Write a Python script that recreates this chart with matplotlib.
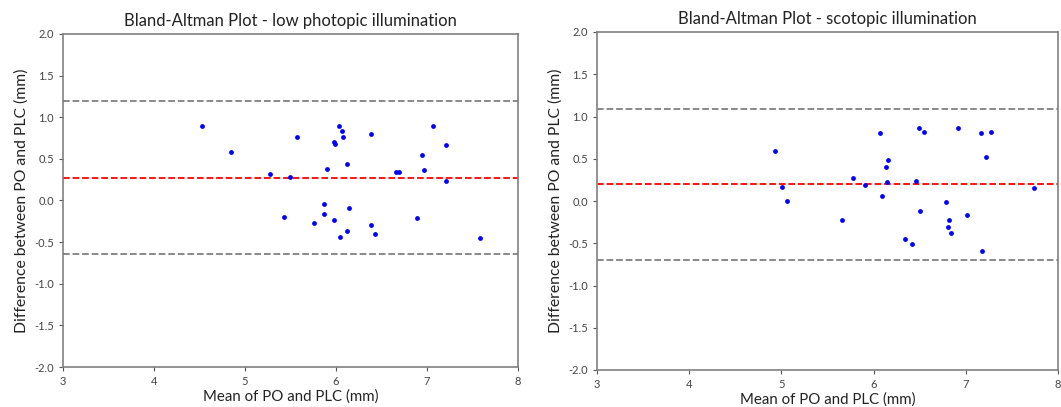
import matplotlib
matplotlib.use("Agg")
import matplotlib.pyplot as plt

# Low photopic illumination
low_mean = [4.527, 4.850, 5.275, 5.498, 5.575, 5.432, 5.758, 5.868, 5.868, 5.901,
            5.978, 5.989, 5.982, 6.037, 6.070, 6.081, 6.125, 6.147, 6.125, 6.048,
            6.381, 6.381, 6.425, 6.663, 6.696, 6.886, 6.941, 6.963, 7.066, 7.209,
            7.209, 7.582]
low_diff = [0.90, 0.584, 0.324, 0.288, 0.764, -0.204, -0.276, -0.044, -0.164, 0.384,
            0.708, 0.684, -0.24, 0.90, 0.84, 0.764, 0.444, -0.092, -0.364, -0.436,
            0.804, -0.292, -0.40, 0.348, 0.348, -0.216, 0.544, 0.364, 0.90, 0.668,
            0.24, -0.452]
low_bias = 0.272
low_loa = [1.192, -0.64]

# Scotopic illumination
sco_mean = [4.931, 5.011, 5.058, 5.653, 5.776, 5.906, 6.069, 6.090, 6.134, 6.159,
            6.148, 6.336, 6.415, 6.458, 6.495, 6.552, 6.505, 6.787, 6.819, 6.809,
            6.841, 6.910, 7.018, 7.170, 7.181, 7.224, 7.271, 7.740]
sco_diff = [0.596, 0.169, -0.004, -0.227, 0.278, 0.192, 0.804, 0.059, 0.40, 0.486,
            0.227, -0.447, -0.506, 0.239, 0.867, 0.816, -0.114, -0.016, -0.227, -0.31,
            -0.373, 0.867, -0.161, 0.804, -0.592, 0.525, 0.816, 0.157]
sco_bias = 0.196
sco_loa = [1.090, -0.698]

titles = ["Bland-Altman Plot - low photopic illumination",
          "Bland-Altman Plot - scotopic illumination"]
xlabel = "Mean of PO and PLC (mm)"
ylabel = "Difference between PO and PLC (mm)"
xticks = [3, 4, 5, 6, 7, 8]
yticks = [-2.0, -1.5, -1.0, -0.5, 0.0, 0.5, 1.0, 1.5, 2.0]

plt.rcParams['font.family'] = ['Lato', 'DejaVu Sans']

W, H = 1061, 407
fig = plt.figure(figsize=(W / 100, H / 100), dpi=100)

boxes = [(63, 34, 518, 367), (597, 32, 1058, 370)]
data = [(low_mean, low_diff, low_bias, low_loa),
        (sco_mean, sco_diff, sco_bias, sco_loa)]

for (x0, y0, x1, y1), (m, d, b, loa), t in zip(boxes, data, titles):
    ax = fig.add_axes([x0 / W, 1 - y1 / H, (x1 - x0) / W, (y1 - y0) / H])
    ax.scatter(m, d, s=12, color='#0000ff', zorder=3, linewidths=0)
    ax.axhline(b, color='red', linestyle='--', linewidth=1.3)
    for v in loa:
        ax.axhline(v, color='gray', linestyle='--', linewidth=1.3)
    ax.set_xlim(3, 8)
    ax.set_ylim(-2, 2)
    ax.set_xticks(xticks)
    ax.set_yticks(yticks)
    ax.set_xticklabels([str(v) for v in xticks])
    ax.set_yticklabels([f"{v:.1f}" for v in yticks])
    ax.tick_params(labelsize=8, length=3, color='#555555', labelcolor='#444444')
    for s in ax.spines.values():
        s.set_color('#808080')
        s.set_linewidth(1.2)
    ax.set_title(t, fontsize=12, color='#222222', pad=6)
    ax.set_xlabel(xlabel, fontsize=10.8, color='#222222', labelpad=2)
    ax.set_ylabel(ylabel, fontsize=11.3, color='#222222', labelpad=4)

fig.savefig("out.png", dpi=100)
